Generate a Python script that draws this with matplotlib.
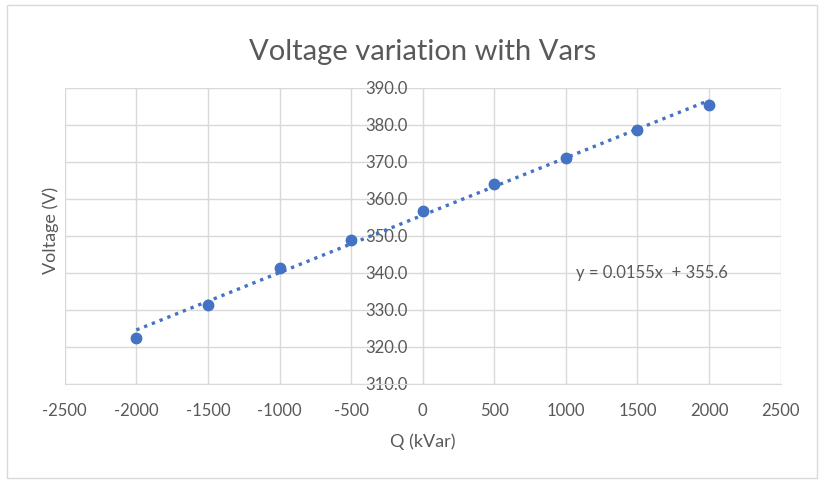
import numpy as np
import matplotlib.pyplot as plt
from matplotlib.patches import Rectangle

# data
q_kvar = [-2000, -1500, -1000, -500, 0, 500, 1000, 1500, 2000]
voltage = [322.4, 331.4, 341.2, 348.9, 356.8, 364.1, 371.1, 378.6, 385.4]
trend_slope = 0.0155
trend_intercept = 355.6
x_ticks = [-2500, -2000, -1500, -1000, -500, 0, 500, 1000, 1500, 2000, 2500]
y_ticks = [310, 320, 330, 340, 350, 360, 370, 380, 390]

blue = '#4472C4'
grey_text = '#595959'
grid = '#D9D9D9'

plt.rcParams['font.family'] = ['Lato', 'DejaVu Sans']
plt.rcParams['axes.unicode_minus'] = False

fig = plt.figure(figsize=(8.2, 4.8), dpi=100)
fig.patches.append(Rectangle((0.008, 0.004), 0.988, 0.985, transform=fig.transFigure,
                             fill=False, edgecolor='#D9D9D9', linewidth=1))
ax = fig.add_axes([0.079, 0.2, 0.873, 0.617])

ax.set_xlim(-2500, 2500)
ax.set_ylim(310, 390)
ax.set_xticks(x_ticks)
ax.set_yticks(y_ticks)
ax.set_yticklabels([f'{v:.1f}' for v in y_ticks])
ax.grid(True, color=grid, linewidth=1)
ax.set_axisbelow(True)

for s in ['top', 'right', 'left']:
    ax.spines[s].set_visible(False)
ax.spines['left'].set_position(('data', 0))
ax.spines['left'].set_visible(True)
ax.spines['left'].set_color(grid)
ax.spines['bottom'].set_color(grid)
ax.tick_params(length=0, colors=grey_text, labelsize=12)
ax.tick_params(axis='x', pad=14)
ax.tick_params(axis='y', pad=11)

# trendline
xt = np.array([q_kvar[0], q_kvar[-1]])
ax.plot(xt, trend_slope * xt + trend_intercept, color=blue, linestyle=(0, (1, 1.5)),
        linewidth=2.4, zorder=2)
ax.plot(q_kvar, voltage, 'o', color=blue, markersize=7.5, zorder=3)

ax.text(1600, 340, f'y = {trend_slope}x  + {trend_intercept}', color=grey_text, fontsize=12,
        va='center', ha='center')

ax.set_title('Voltage variation with Vars', color=grey_text, fontsize=21, pad=20)
ax.set_xlabel('Q (kVar)', color=grey_text, fontsize=13, labelpad=10)
fig.text(0.062, 0.52, 'Voltage (V)', rotation=90, color=grey_text, fontsize=13,
         ha='center', va='center')

fig.savefig('out.png', dpi=100)
